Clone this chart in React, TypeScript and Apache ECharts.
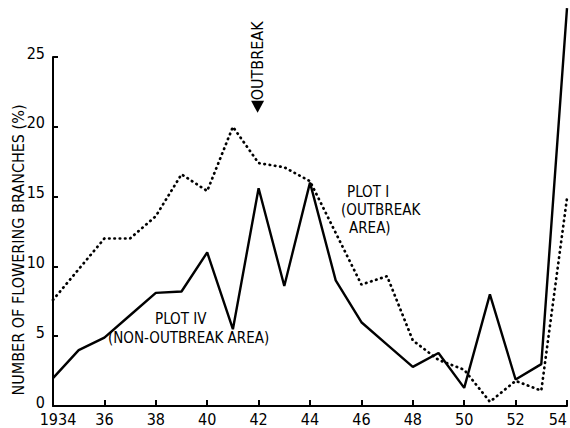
import React, { useEffect, useRef } from 'react';
import * as echarts from 'echarts';

const years = [1934, 1935, 1936, 1937, 1938, 1939, 1940, 1941, 1942, 1943, 1944, 1945, 1946, 1947, 1948, 1949, 1950, 1951, 1952, 1953, 1954];
const plotIV = [2.0, 4.0, 4.9, 6.5, 8.1, 8.2, 11.0, 5.5, 15.6, 8.6, 16.0, 9.0, 6.0, 4.4, 2.8, 3.8, 1.3, 8.0, 1.9, 3.0, 28.5];
const plotI = [7.6, 9.8, 12.0, 12.0, 13.6, 16.6, 15.4, 20.0, 17.4, 17.1, 16.1, 12.4, 8.7, 9.3, 4.7, 3.3, 2.6, 0.3, 1.8, 1.1, 14.9];
const yTicks = [0, 5, 10, 15, 20, 25];
const yAxisTitle = 'NUMBER OF FLOWERING BRANCHES (%)';

const FONT = "'Liberation Sans Narrow', 'DejaVu Sans Condensed', 'Noto Sans', sans-serif";

export default function App() {
  const ref = useRef<HTMLDivElement>(null);
  useEffect(() => {
    if (!ref.current) return;
    const chart = echarts.init(ref.current, null, { renderer: 'svg' });
    const toPairs = (vals: number[]) => years.map((y, i) => [y, vals[i]]);
    chart.setOption({
      animation: false,
      backgroundColor: '#fff',
      grid: { left: 53, right: 3, top: 57, bottom: 22, outerBoundsMode: 'none', containLabel: false },
      xAxis: {
        type: 'value',
        min: 1934,
        max: 1954,
        interval: 2,
        axisLine: { lineStyle: { color: '#000', width: 2 } },
        axisTick: { inside: true, length: 6, lineStyle: { color: '#000', width: 2 } },
        splitLine: { show: false },
        axisLabel: {
          color: '#000',
          fontFamily: FONT,
          fontSize: 16,
          lineHeight: 12,
          margin: 7,
          showMaxLabel: true,
          hideOverlap: false,
          alignMaxLabel: 'right',
          formatter: (v: number) => (v === 1934 ? '{s|1934}' : String(v).slice(2)),
          rich: { s: { fontFamily: FONT, fontSize: 16, lineHeight: 12, color: '#000', padding: [0, 0, 0, 10] } },
        },
      },
      yAxis: {
        type: 'value',
        min: yTicks[0],
        max: yTicks[yTicks.length - 1],
        interval: 5,
        axisLine: { show: true, lineStyle: { color: '#000', width: 2 } },
        axisTick: { show: true, inside: true, length: 5, lineStyle: { color: '#000', width: 2 } },
        splitLine: { show: false },
        axisLabel: { color: '#000', fontFamily: FONT, fontSize: 16, lineHeight: 10, margin: 8, verticalAlign: 'bottom', padding: [0, 0, -1, 0] },
      },
      series: [
        {
          name: 'PLOT I',
          type: 'line',
          data: toPairs(plotI),
          symbol: 'none',
          clip: false,
          lineStyle: { color: '#000', width: 2.7, type: [0.5, 4.8], cap: 'round' },
        },
        {
          name: 'PLOT IV',
          type: 'line',
          data: toPairs(plotIV),
          symbol: 'none',
          clip: false,
          lineStyle: { color: '#000', width: 2.4, type: 'solid' },
        },
      ],
    });
    const tip = chart.convertToPixel({ gridIndex: 0 }, [1942, 21.0]) as number[];
    const tx = tip[0] - 1;
    const ty = tip[1];
    const txt = (x: number, y: number, text: string, size: number) => ({
      type: 'text',
      x,
      y,
      style: { text, fill: '#000', font: `${size}px ${FONT}`, align: 'left', verticalAlign: 'middle', lineHeight: 13 },
    });
    chart.setOption({
      graphic: [
        {
          type: 'polygon',
          shape: { points: [[tx - 6.5, ty - 12], [tx + 6.5, ty - 12], [tx, ty]] },
          style: { fill: '#000' },
        },
        {
          type: 'text',
          x: tx,
          y: ty - 52,
          rotation: Math.PI / 2,
          style: { text: 'OUTBREAK', fill: '#000', font: `16px ${FONT}`, align: 'center', verticalAlign: 'middle' },
        },
        {
          type: 'text',
          x: 18,
          y: 250,
          rotation: Math.PI / 2,
          style: { text: yAxisTitle, fill: '#000', font: `16px ${FONT}`, align: 'center', verticalAlign: 'middle' },
        },
        txt(347, 192, 'PLOT I', 15),
        txt(341, 210, '(OUTBREAK', 15),
        txt(349, 228, 'AREA)', 15),
        txt(155, 319, 'PLOT IV', 15),
        txt(108, 338, '(NON-OUTBREAK AREA)', 15),
      ],
    });
    return () => chart.dispose();
  }, []);
  return <div ref={ref} style={{ position: 'fixed', left: 0, top: 0, width: 570, height: 428 }} />;
}
